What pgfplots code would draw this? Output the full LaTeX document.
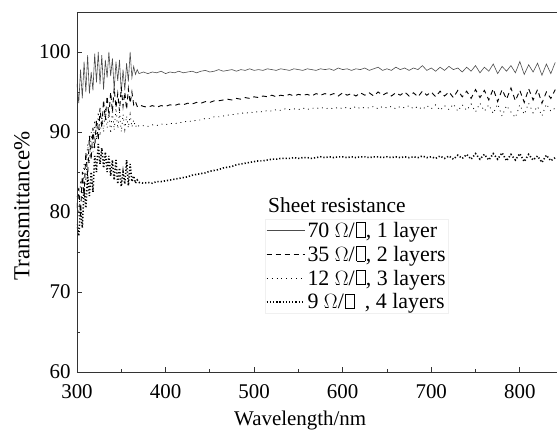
\documentclass[border=0pt]{standalone}
\usepackage{fontspec}
\setmainfont{Liberation Serif}
\usepackage{pgfplots}
\pgfplotsset{compat=1.18}
\newcommand\sq{\kern1.5pt\hbox{\vrule width0.6pt\vbox{\hrule height0.6pt width0.36em\vskip0.64em\hrule height0.6pt}\vrule width0.6pt}\kern0.5pt}
\begin{document}
\begin{tikzpicture}
\begin{axis}[
  width=480bp, height=360bp, scale only axis,
  xmin=300, xmax=842, ymin=60, ymax=105,
  xtick={300,400,...,800}, minor xtick={350,450,...,850},
  ytick={60,70,...,100}, minor ytick={65,75,...,105},
  xtick pos=left, ytick pos=left, tick align=inside,
  axis line style={draw=none},
  major tick length=5bp, minor tick length=3bp,
  tick style={black!80, line width=0.8pt},
  ticklabel style={font=\fontsize{21}{24}\selectfont},
  xticklabel style={yshift=-9bp},
  yticklabel style={xshift=-3bp},
  /pgf/number format/assume math mode=true,
  xlabel={Wavelength/nm}, ylabel={Transmittance\%},
  xlabel style={font=\fontsize{21}{24}\selectfont, at={(axis description cs:0.465,0)}, anchor=north, inner sep=0pt, yshift=-39bp},
  ylabel style={font=\fontsize{23}{24}\selectfont, at={(axis description cs:-0.115,0.461)}, anchor=center, inner sep=0pt},
  legend image code/.code={\draw[#1] (0bp,0bp) -- (38bp,0bp);},
  legend style={at={(axis cs:512,79.1)}, anchor=north west, draw=black!6, fill=white,
    font=\fontsize{22}{24}\selectfont, row sep=3bp, inner sep=1bp,
    /tikz/every even column/.style={column sep=2bp}},
  legend cell align=left,
]
\addplot[black!70, line width=0.6pt] coordinates {
(300,96.0)(302,93.6)(304,97.8)(306,94.2)(308,98.8)(310,95.0)(312,99.6)(314,94.8)(316,97.5)(318,95.2)
(320,99.8)(322,96.2)(324,100.0)(326,96.0)(328,99.6)(330,95.3)(332,99.0)(334,96.8)(336,100.0)(338,97.0)
(340,99.2)(342,95.2)(344,98.8)(346,96.4)(348,99.0)(350,94.9)(352,97.8)(354,95.2)(356,98.6)(358,96.3)
(360,100.0)(362,96.8)(364,98.2)(366,97.2)(368,97.8)(370,97.3)
(375,97.5)(380,97.3)(385,97.5)(390,97.4)(395,97.6)(400,97.3)(405,97.5)(410,97.4)(415,97.6)(420,97.4)
(425,97.5)(430,97.6)(435,97.4)(440,97.6)(445,97.7)(450,97.5)(455,97.6)(460,97.8)(465,97.6)(470,97.7)
(475,97.8)(480,97.6)(485,97.8)(490,97.7)(495,97.9)(500,97.7)(505,97.8)(510,97.7)(515,97.9)(520,97.8)
(525,97.7)(530,97.9)(535,97.8)(540,97.7)(545,97.9)(550,97.8)(555,97.7)(560,97.9)(565,97.8)(570,97.7)
(575,97.9)(580,97.8)(585,97.9)(590,97.7)(595,98.0)(600,97.8)(605,97.9)(610,97.7)(615,97.9)(620,97.8)
(625,98.0)(630,97.7)(635,97.9)(640,98.1)(645,97.7)(650,97.9)(655,97.7)(660,98.1)(665,97.8)(670,98.0)
(675,97.7)(680,98.0)(685,97.8)(690,98.3)(695,97.7)(700,98.0)(705,97.6)(710,98.1)(715,97.7)(720,98.2)
(725,97.8)(730,98.0)(735,97.5)(740,98.1)(745,97.6)(750,98.3)(755,97.4)(760,98.1)(765,97.6)(770,98.5)
(775,97.3)(780,98.2)(785,97.6)(790,98.3)(795,97.4)(800,98.8)(805,97.2)(810,98.4)(815,97.5)(820,98.6)
(825,97.1)(830,98.5)(835,97.3)(840,98.7)
};
\addlegendentry{70 $\Omega$/\sq, 1 layer}
\addplot[black, line width=0.9pt, dash pattern=on 5pt off 4pt] coordinates {
(300,80.5)(302,83.0)(304,79.5)(306,85.0)(308,82.0)(310,87.5)(312,84.5)(314,89.5)(316,86.5)(318,90.5)
(320,88.0)(322,91.5)(324,89.0)(326,93.0)(328,90.5)(330,94.0)(332,91.5)(334,94.5)(336,92.0)(338,95.0)
(340,92.5)(342,95.5)(344,93.0)(346,94.8)(348,92.6)(350,95.6)(352,93.2)(354,95.0)(356,92.8)(358,95.4)
(360,93.6)(362,95.0)(364,93.4)(366,93.8)(368,93.2)(370,93.4)
(375,93.2)(380,93.1)(385,93.3)(390,93.1)(395,93.3)(400,93.2)(405,93.4)(410,93.3)(415,93.5)(420,93.4)
(425,93.6)(430,93.5)(435,93.7)(440,93.6)(445,93.8)(450,93.7)(455,93.9)(460,93.9)(465,94.0)(470,94.1)
(475,94.0)(480,94.2)(485,94.1)(490,94.3)(495,94.2)(500,94.4)(505,94.3)(510,94.5)(515,94.4)(520,94.6)
(525,94.4)(530,94.6)(535,94.5)(540,94.7)(545,94.5)(550,94.7)(555,94.6)(560,94.7)(565,94.5)(570,94.8)
(575,94.6)(580,94.8)(585,94.6)(590,94.8)(595,94.5)(600,94.9)(605,94.6)(610,94.8)(615,94.5)(620,94.9)
(625,94.6)(630,94.9)(635,94.5)(640,95.0)(645,94.6)(650,94.9)(655,94.5)(660,94.9)(665,94.6)(670,95.0)
(675,94.5)(680,94.9)(685,94.4)(690,95.1)(695,94.6)(700,95.0)(705,94.4)(710,95.1)(715,94.5)(720,95.0)
(725,94.3)(730,95.2)(735,94.4)(740,95.1)(745,94.2)(750,95.3)(755,94.3)(760,95.2)(765,94.0)(770,95.4)
(775,93.8)(780,95.3)(785,94.1)(790,95.5)(795,93.9)(800,95.2)(805,93.7)(810,95.4)(815,94.0)(820,95.3)
(825,93.6)(830,95.0)(835,94.2)(840,95.3)
};
\addlegendentry{35 $\Omega$/\sq, 2 layers}
\addplot[black, line width=0.8pt, dash pattern=on 0.9pt off 4pt] coordinates {
(300,82.0)(302,79.5)(304,84.0)(306,81.5)(308,86.0)(310,83.5)(312,88.5)(314,86.0)(316,90.0)(318,87.5)
(320,91.5)(322,89.0)(324,92.5)(326,89.5)(328,92.0)(330,90.0)(332,93.0)(334,90.5)(336,92.5)(338,89.8)
(340,92.8)(342,90.2)(344,93.0)(346,90.4)(348,92.5)(350,90.0)(352,92.2)(354,90.3)(356,92.0)(358,90.5)
(360,92.2)(362,90.6)(364,91.5)(366,90.6)(368,91.0)(370,90.7)
(375,90.8)(380,90.7)(385,90.9)(390,90.8)(395,91.0)(400,90.9)(405,91.1)(410,91.0)(415,91.2)(420,91.2)
(425,91.4)(430,91.3)(435,91.5)(440,91.5)(445,91.7)(450,91.7)(455,91.9)(460,91.9)(465,92.0)(470,92.1)
(475,92.2)(480,92.2)(485,92.4)(490,92.3)(495,92.5)(500,92.4)(505,92.6)(510,92.5)(515,92.7)(520,92.6)
(525,92.8)(530,92.7)(535,92.9)(540,92.8)(545,92.9)(550,92.8)(555,93.0)(560,92.8)(565,93.0)(570,92.9)
(575,93.1)(580,92.9)(585,93.0)(590,92.9)(595,93.1)(600,92.9)(605,93.1)(610,92.9)(615,93.2)(620,92.9)
(625,93.1)(630,93.0)(635,93.2)(640,92.9)(645,93.2)(650,93.0)(655,93.2)(660,92.9)(665,93.2)(670,93.0)
(675,93.3)(680,92.9)(685,93.2)(690,92.8)(695,93.3)(700,92.9)(705,93.4)(710,92.7)(715,93.3)(720,92.8)
(725,93.5)(730,92.6)(735,93.4)(740,92.7)(745,93.5)(750,92.5)(755,93.6)(760,92.6)(765,93.4)(770,92.3)
(775,93.5)(780,92.0)(785,93.3)(790,92.5)(795,91.8)(800,93.4)(805,92.2)(810,93.6)(815,92.4)(820,93.2)
(825,92.0)(830,93.5)(835,92.6)(840,93.0)
};
\addlegendentry{12 $\Omega$/\sq, 3 layers}
\addplot[black, line width=1.6pt, dash pattern=on 1.2pt off 2pt] coordinates {
(300,78.5)(302,77.0)(304,80.5)(306,78.0)(308,83.0)(310,80.5)(312,84.5)(314,82.0)(316,85.0)(318,82.5)
(320,87.0)(322,85.0)(324,88.5)(326,86.0)(328,88.0)(330,85.5)(332,87.5)(334,85.0)(336,87.0)(338,84.5)
(340,86.5)(342,84.0)(344,86.5)(346,83.5)(348,85.5)(350,83.2)(352,85.0)(354,83.5)(356,86.5)(358,83.3)
(360,86.0)(362,83.8)(364,84.5)(366,83.6)(368,84.0)(370,83.7)
(375,83.6)(380,83.7)(385,83.6)(390,83.8)(395,83.8)(400,83.9)(405,84.0)(410,84.1)(415,84.2)(420,84.3)
(425,84.4)(430,84.6)(435,84.7)(440,84.8)(445,84.9)(450,85.1)(455,85.2)(460,85.3)(465,85.5)(470,85.6)
(475,85.7)(480,85.9)(485,86.0)(490,86.1)(495,86.2)(500,86.3)(505,86.4)(510,86.4)(515,86.5)(520,86.6)
(525,86.6)(530,86.7)(535,86.7)(540,86.7)(545,86.8)(550,86.7)(555,86.8)(560,86.8)(565,86.7)(570,86.8)
(575,86.9)(580,86.8)(585,86.9)(590,86.8)(595,86.9)(600,86.9)(605,86.8)(610,86.9)(615,86.8)(620,86.9)
(625,86.9)(630,86.8)(635,86.9)(640,86.9)(645,86.8)(650,86.9)(655,86.8)(660,86.9)(665,86.8)(670,86.9)
(675,86.8)(680,86.9)(685,86.8)(690,87.0)(695,86.8)(700,86.9)(705,86.7)(710,87.0)(715,86.7)(720,87.0)
(725,86.6)(730,87.1)(735,86.7)(740,87.2)(745,86.6)(750,87.3)(755,86.6)(760,87.2)(765,86.5)(770,87.3)
(775,86.6)(780,87.4)(785,86.4)(790,87.2)(795,86.5)(800,87.3)(805,86.3)(810,87.2)(815,86.5)(820,87.0)
(825,86.2)(830,87.1)(835,86.4)(840,86.8)
};
\addlegendentry{9 $\Omega$/\sq\hspace{10bp}, 4 layers}
\node[anchor=west, inner sep=0pt, font=\fontsize{21.5}{24}\selectfont] at (axis cs:515.6,80.9) {Sheet resistance};
\end{axis}
\draw[black!80, line width=1pt] (current axis.south east) -- (current axis.south west) -- (current axis.north west) -- (current axis.north east);
\pgfresetboundingbox
\path[use as bounding box] ([xshift=-77bp,yshift=-58bp]current axis.south west) rectangle ([yshift=12bp]current axis.north east);
\end{tikzpicture}
\end{document}
